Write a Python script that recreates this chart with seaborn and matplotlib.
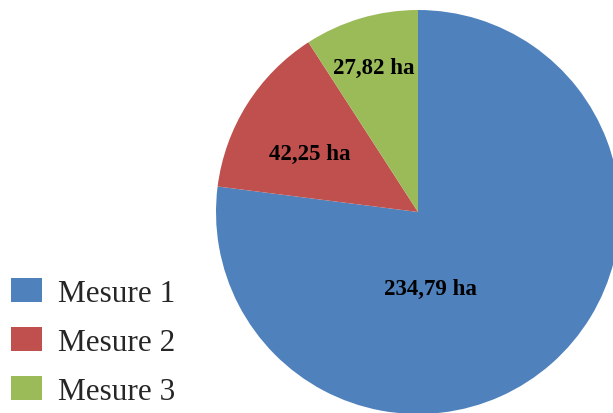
import matplotlib
matplotlib.use("Agg")
import matplotlib.pyplot as plt
import seaborn as sns

sns.set_theme(style="white")
plt.rcParams['font.family'] = ['Liberation Serif', 'DejaVu Serif']

labels = ["Mesure 1", "Mesure 2", "Mesure 3"]
values = [234.79, 42.25, 27.82]
value_text = ["234,79 ha", "42,25 ha", "27,82 ha"]
colors = ["#4F81BD", "#C0504D", "#9BBB59"]
# label positions (pie radius = 1)
label_pos = [(0.06, -0.38), (-0.535, 0.29), (-0.22, 0.715)]

fig = plt.figure(figsize=(6.13, 4.14), dpi=100)
r = 202
cx, cy = 418, 414 - 213
ax = fig.add_axes([(cx - r) / 613, (cy - r) / 414, 2 * r / 613, 2 * r / 414])
wedges, _ = ax.pie(values, colors=colors, startangle=90, counterclock=False,
                   radius=1, wedgeprops=dict(linewidth=0))
ax.set_xlim(-1, 1)
ax.set_ylim(-1, 1)
ax.set_aspect('equal')
ax.axis('off')
for w in wedges:
    w.set_clip_on(False)

for txt, (x, y) in zip(value_text, label_pos):
    ax.text(x, y, txt, ha='center', va='center', fontsize=16.5,
            fontweight='bold', color='black')

fig.legend(wedges, labels, loc='lower left', bbox_to_anchor=(0.0065, 0.0),
           frameon=False, fontsize=22.5, handlelength=1.0, handleheight=0.8,
           handletextpad=0.5, labelspacing=0.62, borderaxespad=0.1,
           borderpad=0.12)

fig.savefig("out.png", dpi=100)
